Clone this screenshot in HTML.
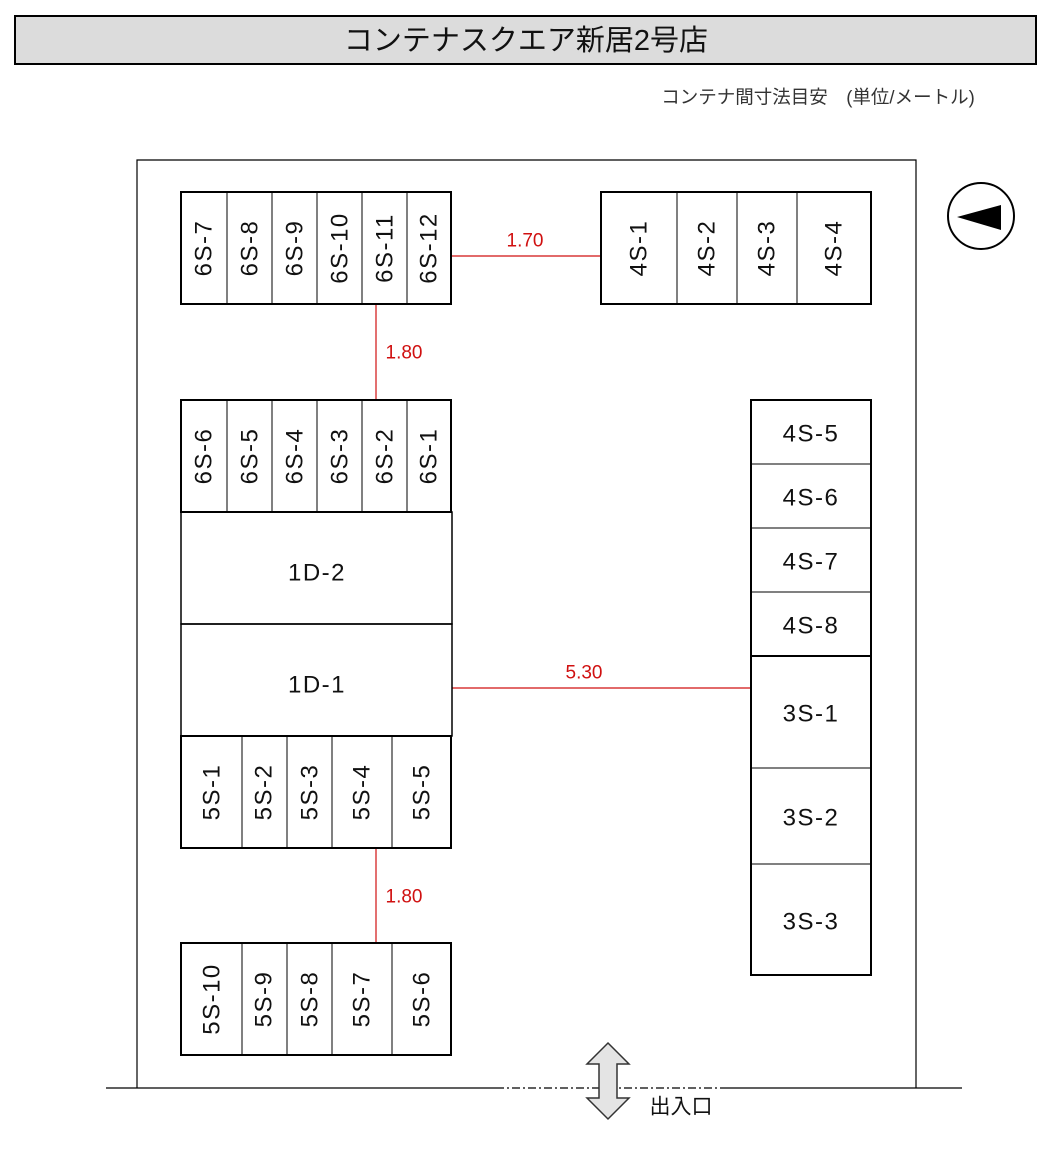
<!DOCTYPE html>
<html><head><meta charset="utf-8"><style>
html,body{margin:0;padding:0;background:#fff;}
svg{display:block;}
text{font-family:"Liberation Sans","Noto Sans CJK JP",sans-serif;fill:#111;}
.v{font-size:24px;letter-spacing:1.5px;}
.h{font-size:24px;letter-spacing:1.5px;}
.r{font-size:19px;fill:#d01010;}
</style></head><body>
<svg width="1052" height="1169" viewBox="0 0 1052 1169" xmlns="http://www.w3.org/2000/svg">
<rect x="15" y="16" width="1021" height="48" fill="#dcdcdc" stroke="#000" stroke-width="2"/>
<text x="526" y="41" text-anchor="middle" dominant-baseline="central" style="font-size:29px">コンテナスクエア新居2号店</text>
<text x="818" y="97" text-anchor="middle" dominant-baseline="central" style="font-size:18.5px;fill:#333">コンテナ間寸法目安　(単位/メートル)</text>

<polyline points="137,1088 137,160 916,160 916,1088" fill="none" stroke="#000" stroke-width="1.2"/>
<line x1="106" y1="1088" x2="496" y2="1088" stroke="#000" stroke-width="1.2"/>
<line x1="496" y1="1088" x2="720" y2="1088" stroke="#000" stroke-width="1.2" stroke-dasharray="8,3,2,3"/>
<line x1="720" y1="1088" x2="962" y2="1088" stroke="#000" stroke-width="1.2"/>

<g stroke="#d01010" stroke-width="1.2">
<line x1="451" y1="256" x2="601" y2="256"/>
<line x1="376" y1="304" x2="376" y2="400"/>
<line x1="376" y1="848" x2="376" y2="943"/>
<line x1="452" y1="688" x2="751" y2="688"/>
</g>
<text class="r" x="525" y="241" text-anchor="middle" dominant-baseline="central">1.70</text>
<text class="r" x="404" y="353" text-anchor="middle" dominant-baseline="central">1.80</text>
<text class="r" x="404" y="897" text-anchor="middle" dominant-baseline="central">1.80</text>
<text class="r" x="584" y="673" text-anchor="middle" dominant-baseline="central">5.30</text>

<g fill="none" stroke="#000">
<rect x="181" y="192" width="270" height="112" stroke-width="2"/>
<path d="M227 192V304M272 192V304M317 192V304M362 192V304M407 192V304" stroke-width="1"/>
<rect x="601" y="192" width="270" height="112" stroke-width="2"/>
<path d="M677 192V304M737 192V304M797 192V304" stroke-width="1"/>
<rect x="181" y="400" width="270" height="112" stroke-width="2"/>
<path d="M227 400V512M272 400V512M317 400V512M362 400V512M407 400V512" stroke-width="1"/>
<rect x="181" y="512" width="271" height="112" stroke-width="1.5"/>
<rect x="181" y="624" width="271" height="112" stroke-width="1.5"/>
<rect x="181" y="736" width="270" height="112" stroke-width="2"/>
<path d="M242 736V848M287 736V848M332 736V848M392 736V848" stroke-width="1"/>
<rect x="181" y="943" width="270" height="112" stroke-width="2"/>
<path d="M242 943V1055M287 943V1055M332 943V1055M392 943V1055" stroke-width="1"/>
<rect x="751" y="400" width="120" height="256" stroke-width="2"/>
<path d="M751 464H871M751 528H871M751 592H871" stroke-width="1"/>
<rect x="751" y="656" width="120" height="319" stroke-width="2"/>
<path d="M751 768H871M751 864H871" stroke-width="1"/>
</g>

<g class="v" text-anchor="middle" dominant-baseline="central">
<text transform="translate(204,248) rotate(-90)">6S-7</text>
<text transform="translate(250,248) rotate(-90)">6S-8</text>
<text transform="translate(295,248) rotate(-90)">6S-9</text>
<text transform="translate(340,248) rotate(-90)">6S-10</text>
<text transform="translate(385,248) rotate(-90)">6S-11</text>
<text transform="translate(429,248) rotate(-90)">6S-12</text>
<text transform="translate(639,248) rotate(-90)">4S-1</text>
<text transform="translate(707,248) rotate(-90)">4S-2</text>
<text transform="translate(767,248) rotate(-90)">4S-3</text>
<text transform="translate(834,248) rotate(-90)">4S-4</text>
<text transform="translate(204,456) rotate(-90)">6S-6</text>
<text transform="translate(250,456) rotate(-90)">6S-5</text>
<text transform="translate(295,456) rotate(-90)">6S-4</text>
<text transform="translate(340,456) rotate(-90)">6S-3</text>
<text transform="translate(385,456) rotate(-90)">6S-2</text>
<text transform="translate(429,456) rotate(-90)">6S-1</text>
<text transform="translate(212,792) rotate(-90)">5S-1</text>
<text transform="translate(264,792) rotate(-90)">5S-2</text>
<text transform="translate(310,792) rotate(-90)">5S-3</text>
<text transform="translate(362,792) rotate(-90)">5S-4</text>
<text transform="translate(422,792) rotate(-90)">5S-5</text>
<text transform="translate(212,999) rotate(-90)">5S-10</text>
<text transform="translate(264,999) rotate(-90)">5S-9</text>
<text transform="translate(310,999) rotate(-90)">5S-8</text>
<text transform="translate(362,999) rotate(-90)">5S-7</text>
<text transform="translate(422,999) rotate(-90)">5S-6</text>
</g>
<g class="h" text-anchor="middle" dominant-baseline="central">
<text x="317" y="573">1D-2</text>
<text x="317" y="685">1D-1</text>
<text x="811" y="434">4S-5</text>
<text x="811" y="498">4S-6</text>
<text x="811" y="562">4S-7</text>
<text x="811" y="626">4S-8</text>
<text x="811" y="714">3S-1</text>
<text x="811" y="818">3S-2</text>
<text x="811" y="922">3S-3</text>
</g>

<circle cx="981" cy="216" r="33" fill="none" stroke="#000" stroke-width="2"/>
<polygon points="957,217 1001,205 1001,230" fill="#000"/>

<polygon points="608,1043 629,1064 617,1064 617,1098 629,1098 608,1119 587,1098 599,1098 599,1064 587,1064" fill="#e4e4e4" stroke="#333" stroke-width="1.5"/>
<text x="681" y="1107" text-anchor="middle" dominant-baseline="central" style="font-size:21px">出入口</text>
</svg>
</body></html>
